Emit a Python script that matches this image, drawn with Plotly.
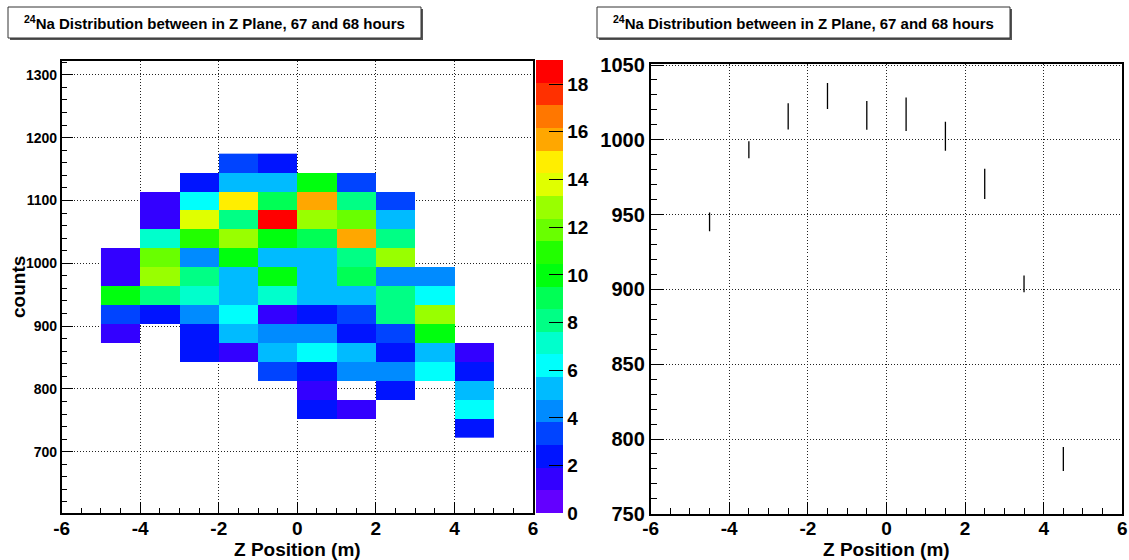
import colorsys
import numpy as np
import plotly.graph_objects as go

W, H = 1129, 560

# ---- 2D histogram: Z position bins (m) vs counts bins ----
z_bins = [-4.5, -3.5, -2.5, -1.5, -0.5, 0.5, 1.5, 2.5, 3.5, 4.5]
count_bin_lo = 723.0
count_bin_width = 30.1
n_count_bins = 15

_ = None
# rows from the lowest counts bin upward, columns follow z_bins
row_720 = [_, _, _, _, _, _, _, _, _, 2]
row_750 = [_, _, _, _, _, 2, 1, _, _, 6]
row_780 = [_, _, _, _, _, 1, _, 2, _, 5]
row_810 = [_, _, _, _, 3, 2, 4, 4, 6, 2]
row_840 = [_, _, 2, 1, 5, 6, 5, 2, 5, 1]
row_870 = [1, _, 2, 5, 4, 4, 2, 3, 10, _]
row_900 = [3, 2, 4, 6, 1, 2, 3, 8, 13, _]
row_930 = [10, 8, 7, 5, 7, 5, 5, 8, 6, _]
row_960 = [1, 13, 8, 5, 10, 5, 9, 4, 4, _]
row_990 = [1, 12, 4, 10, 5, 5, 8, 13, _, _]
row_1020 = [_, 7, 11, 13, 10, 9, 16, 8, _, _]
row_1050 = [_, 1, 14, 8, 19, 13, 12, 5, _, _]
row_1080 = [_, 1, 6, 15, 9, 16, 8, 3, _, _]
row_1110 = [_, _, 2, 5, 5, 10, 3, _, _, _]
row_1140 = [_, _, _, 3, 2, _, _, _, _, _]

hist_rows = [row_720, row_750, row_780, row_810, row_840, row_870, row_900,
             row_930, row_960, row_990, row_1020, row_1050, row_1080,
             row_1110, row_1140]

# ---- profile: mean counts per Z bin with its error ----
prof_z = [-4.5, -3.5, -2.5, -1.5, -0.5, 0.5, 1.5, 2.5, 3.5, 4.5]
prof_mean = [945.1, 993.4, 1015.6, 1029.3, 1016.3, 1017.0, 1002.3, 970.5, 903.7, 786.6]
prof_err = [6.3, 5.7, 8.8, 8.7, 9.6, 11.2, 9.7, 10.1, 5.6, 8.0]

z_ticks = [-6, -4, -2, 0, 2, 4, 6]
z_tick_text = ["-6", "-4", "-2", "0", "2", "4", "6"]

title_text = "<b><sup>24</sup>Na Distribution between in Z Plane, 67 and 68 hours</b>"

# ---- rainbow palette with 20 contour bands (violet -> red) ----
ZMAX = 19.0
N_LEVELS = 20
N_PALETTE = 50


def palette_color(i):
    hue = 280.0 - (i + 1) * (280.0 / N_PALETTE)
    r, g, b = colorsys.hls_to_rgb(hue / 360.0, 0.5, 1.0)
    return "rgb(%d,%d,%d)" % (round(r * 255), round(g * 255), round(b * 255))


colorscale = []
for k in range(N_LEVELS):
    c = palette_color(min(int((k + 0.99) * N_PALETTE / N_LEVELS), N_PALETTE - 1))
    colorscale.append([k / N_LEVELS, c])
    colorscale.append([(k + 1) / N_LEVELS, c])

count_centers = count_bin_lo + count_bin_width * (np.arange(n_count_bins) + 0.5)

z = [[np.nan if v is None else v for v in row] for row in hist_rows]


def px_x(p):
    return p / W


def px_y(p):
    return (H - p) / H


FONT = "Liberation Sans, Arial, Helvetica, sans-serif"

fig = go.Figure()

fig.add_trace(go.Heatmap(
    x=z_bins, y=count_centers, z=z,
    zmin=0, zmax=ZMAX, colorscale=colorscale, xgap=0, ygap=0,
    hoverongaps=False,
    colorbar=dict(
        x=px_x(535.7), xanchor="left", xpad=0,
        y=px_y(513.3), yanchor="bottom", ypad=0,
        len=452.6, lenmode="pixels",
        thickness=26.6, thicknessmode="pixels",
        outlinewidth=0,
        tickmode="array", tickvals=list(range(0, 19, 2)),
        ticks="inside", ticklen=14, tickwidth=1, tickcolor="black",
        tickfont=dict(family=FONT, size=19, color="black", weight="bold"),
    ),
    xaxis="x", yaxis="y",
))

fig.add_trace(go.Scatter(
    x=prof_z, y=prof_mean, mode="markers",
    marker=dict(size=1, color="black", opacity=0),
    error_y=dict(type="data", array=prof_err, visible=True,
                 color="black", thickness=1.3, width=0),
    xaxis="x2", yaxis="y2", showlegend=False,
))

grid_common = dict(showgrid=True, gridcolor="#222222", gridwidth=1, griddash="1px,2px",
                   zeroline=False, showline=True, linecolor="black", linewidth=1.5,
                   mirror=True, ticks="inside", tickcolor="black", tickwidth=1,
                   automargin=False, layer="above traces")

xaxis_common = dict(grid_common, range=[-6, 6], tickmode="array",
                    tickvals=z_ticks, ticktext=["<b>%s</b>" % t for t in z_tick_text],
                    ticklen=12, ticklabelstandoff=-3,
                    minor=dict(dtick=0.5, tick0=0, ticklen=6, ticks="inside",
                               tickcolor="black", showgrid=False),
                    tickfont=dict(family=FONT, size=19, color="black", weight="bold"))

fig.update_layout(
    width=W, height=H, autosize=False,
    margin=dict(l=0, r=0, t=0, b=0, pad=0),
    paper_bgcolor="white", plot_bgcolor="white",
    showlegend=False,
    xaxis=dict(xaxis_common, domain=[px_x(61.7), px_x(533)], anchor="y"),
    yaxis=dict(grid_common, domain=[px_y(513.3), px_y(61)], anchor="x",
               range=[602, 1322], dtick=100, tick0=0, ticklen=12,
               minor=dict(dtick=20, tick0=0, ticklen=6, ticks="inside",
                          tickcolor="black", showgrid=False),
               tickfont=dict(family=FONT, size=14, color="black", weight="bold")),
    xaxis2=dict(xaxis_common, domain=[px_x(650.6), px_x(1122.3)], anchor="y2"),
    yaxis2=dict(grid_common, domain=[px_y(513.8), px_y(63.5)], anchor="x2",
                range=[750, 1051], dtick=50, tick0=0, ticklen=14,
                minor=dict(dtick=10, tick0=0, ticklen=7, ticks="inside",
                           tickcolor="black", showgrid=False),
                tickfont=dict(family=FONT, size=20, color="black", weight="bold")),
)

# title panes with a drop shadow
shapes = []
annotations = []
for x0, x1 in [(8, 421), (597, 1010)]:
    shapes.append(dict(type="rect", xref="paper", yref="paper",
                       x0=px_x(x0 + 2), x1=px_x(x1 + 2), y0=px_y(40), y1=px_y(9),
                       fillcolor="#555555", line=dict(width=0), layer="above"))
    shapes.append(dict(type="rect", xref="paper", yref="paper",
                       x0=px_x(x0), x1=px_x(x1), y0=px_y(38), y1=px_y(7),
                       fillcolor="white", line=dict(color="#333333", width=1),
                       layer="above"))
    annotations.append(dict(text=title_text, xref="paper", yref="paper",
                            x=px_x((x0 + x1) / 2), y=px_y(23),
                            xanchor="center", yanchor="middle", showarrow=False,
                            font=dict(family=FONT, size=15, color="black")))

for xc in [(61.7 + 533) / 2, (650.6 + 1122.3) / 2]:
    annotations.append(dict(text="<b>Z Position (m)</b>", xref="paper", yref="paper",
                            x=px_x(xc), y=px_y(549), xanchor="center", yanchor="middle",
                            showarrow=False,
                            font=dict(family=FONT, size=19, color="black")))

annotations.append(dict(text="<b>counts</b>", xref="paper", yref="paper",
                        x=px_x(18), y=px_y(287), xanchor="center", yanchor="middle",
                        textangle=-90, showarrow=False,
                        font=dict(family=FONT, size=19, color="black")))

fig.update_layout(shapes=shapes, annotations=annotations)

fig.write_html("out.html")
